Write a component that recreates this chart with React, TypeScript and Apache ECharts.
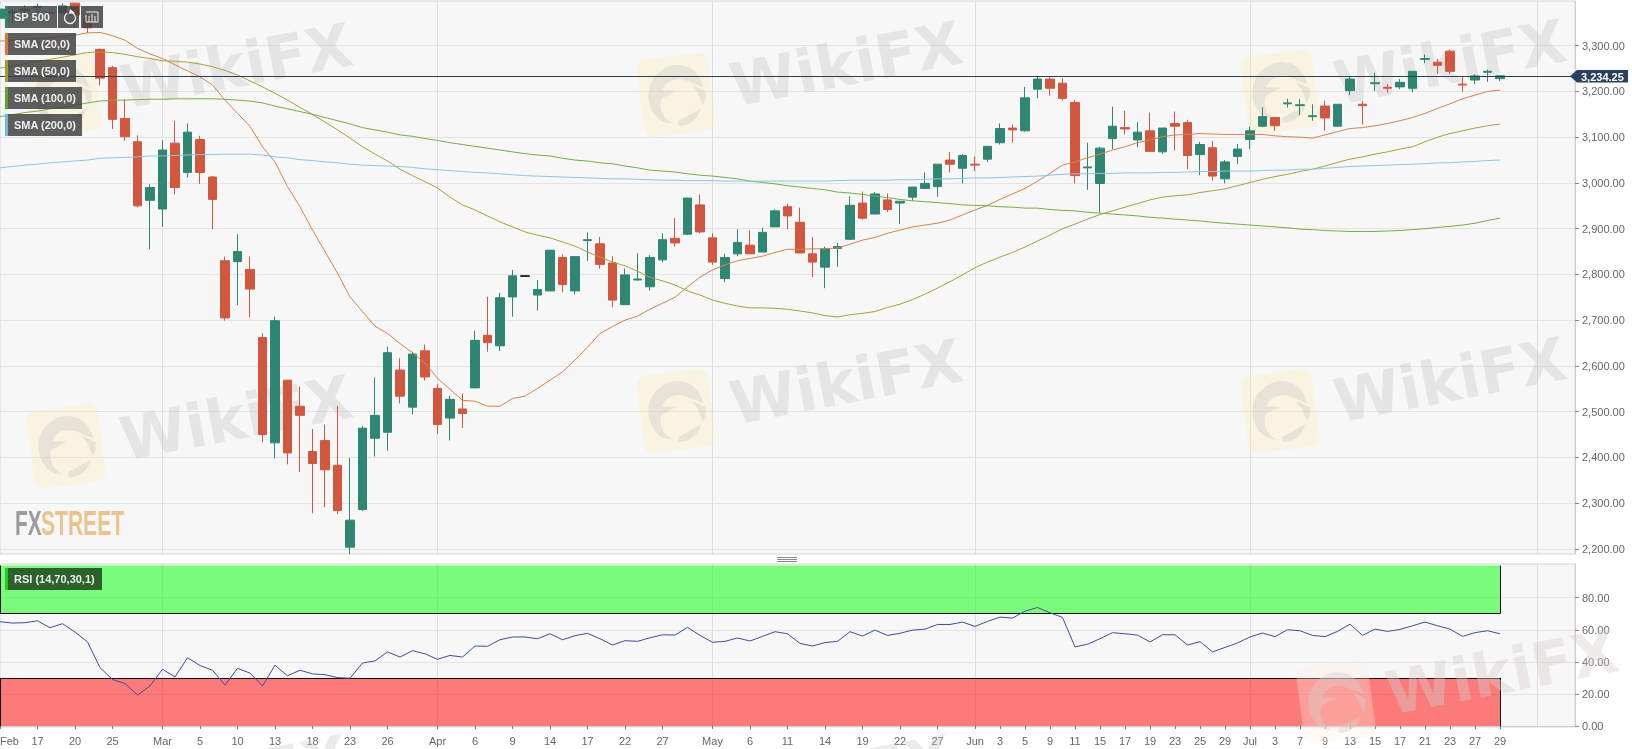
import React, { useEffect, useRef } from "react";
import * as echarts from "echarts";

const opens = [3360,3372,3376,3384,3372,3372,3393,3360,3292,3252,3141,3090,2962,2943,3087,3023,3095,3013,2830,2828,2811,2662,2432,2569,2512,2413,2437,2383,2204,2286,2442,2455,2591,2510,2633,2551,2486,2506,2552,2667,2644,2751,2796,2755,2764,2837,2764,2874,2867,2825,2734,2788,2773,2832,2879,2888,2952,2880,2791,2845,2864,2849,2904,2948,2914,2845,2816,2857,2877,2956,2932,2963,2956,2969,2988,2992,3050,3032,3041,3052,3088,3120,3114,3205,3227,3218,3176,3033,2999,3097,3121,3094,3114,3068,3130,3132,3062,3077,3009,3058,3095,3124,3143,3173,3169,3145,3168,3124,3202,3172,3217,3209,3210,3207,3270,3264,3288,3216,3225,3242,3228];
const closes = [3380,3375,3380,3386,3370,3387,3367,3339,3229,3139,3101,2950,2990,3072,2990,3111,3023,2964,2705,2850,2768,2450,2699,2410,2492,2387,2373,2284,2263,2464,2492,2629,2534,2626,2576,2472,2527,2496,2656,2651,2749,2797,2797,2767,2853,2778,2839,2876,2822,2744,2799,2790,2837,2876,2869,2967,2893,2827,2837,2870,2845,2892,2939,2928,2847,2827,2856,2861,2951,2923,2976,2942,2960,2991,2999,3041,3041,3060,3039,3080,3119,3116,3186,3227,3207,3185,3016,3035,3076,3124,3118,3111,3069,3120,3124,3060,3084,3015,3046,3074,3114,3145,3125,3175,3171,3147,3142,3172,3227,3169,3219,3207,3220,3244,3272,3257,3244,3214,3234,3244,3234.25];
const lows = [3355,3350,3368,3374,3366,3368,3341,3328,3213,3118,3092,2947,2855,2904,2975,3012,2998,2899,2699,2733,2706,2433,2398,2385,2368,2278,2291,2276,2189,2283,2402,2415,2518,2494,2568,2451,2437,2464,2552,2631,2633,2708,2796,2721,2764,2761,2757,2830,2813,2728,2734,2786,2765,2826,2861,2886,2890,2821,2783,2840,2845,2849,2904,2899,2847,2794,2770,2817,2875,2920,2932,2937,2910,2961,2988,2970,3023,2999,3026,3046,3084,3088,3112,3185,3191,3180,2999,2985,2935,3074,3106,3078,3069,3063,3071,3030,3017,3005,2999,3041,3074,3122,3114,3165,3148,3136,3114,3124,3192,3128,3201,3197,3205,3198,3262,3238,3238,3199,3216,3221,3223];
const highs = [3385,3380,3388,3392,3378,3393,3394,3367,3294,3256,3183,3104,2997,3093,3136,3130,3103,3015,2839,2888,2839,2671,2708,2569,2555,2462,2472,2513,2399,2469,2575,2642,2617,2631,2647,2560,2535,2540,2677,2751,2760,2810,2797,2788,2853,2844,2839,2892,2882,2840,2813,2846,2842,2890,2923,2967,2975,2890,2845,2899,2896,2902,2942,2955,2946,2882,2861,2869,2971,2981,2980,2977,2960,2991,3023,3041,3068,3063,3058,3080,3130,3128,3210,3232,3231,3229,3181,3088,3079,3167,3158,3133,3154,3120,3156,3138,3090,3092,3050,3085,3123,3165,3143,3184,3183,3172,3180,3172,3234,3179,3241,3216,3227,3244,3281,3271,3292,3232,3237,3248,3236];

const sma20 = [3310,3312,3314,3316,3318,3320,3323,3328,3329,3322,3312,3294,3282,3272,3258,3245,3232,3214,3181,3152,3124,3079,3046,2992,2948,2897,2850,2803,2751,2719,2687,2671,2649,2629,2606,2573,2549,2525,2523,2512,2512,2529,2534,2551,2569,2587,2613,2641,2671,2686,2700,2709,2724,2737,2750,2773,2794,2810,2821,2830,2835,2840,2848,2855,2855,2856,2856,2858,2866,2875,2881,2890,2897,2904,2908,2912,2919,2930,2941,2951,2964,2976,2988,3004,3021,3039,3046,3055,3063,3072,3079,3088,3094,3101,3105,3106,3108,3107,3106,3106,3106,3106,3103,3101,3100,3098,3105,3112,3119,3121,3125,3130,3136,3143,3152,3163,3173,3184,3192,3200,3203];
const sma50 = [3251,3256,3261,3266,3270,3275,3280,3285,3286,3285,3281,3276,3272,3267,3266,3264,3260,3254,3246,3236,3223,3210,3196,3181,3165,3150,3133,3116,3098,3079,3063,3048,3030,3016,3003,2989,2969,2952,2941,2928,2915,2904,2893,2886,2880,2871,2862,2849,2838,2827,2819,2807,2794,2786,2777,2764,2755,2744,2737,2731,2727,2727,2726,2724,2720,2716,2710,2707,2712,2715,2719,2728,2735,2745,2757,2770,2784,2799,2815,2827,2838,2848,2860,2873,2886,2900,2910,2921,2931,2939,2947,2955,2963,2969,2972,2974,2979,2983,2987,2994,3001,3008,3014,3019,3025,3030,3037,3045,3052,3057,3063,3068,3074,3079,3090,3100,3108,3114,3120,3125,3129];
const sma100 = [3145,3149,3154,3157,3162,3165,3170,3175,3179,3181,3181,3182,3183,3183,3184,3184,3184,3184,3183,3181,3179,3175,3168,3162,3156,3150,3143,3136,3129,3121,3116,3111,3105,3102,3097,3093,3088,3084,3080,3076,3072,3068,3064,3061,3059,3054,3050,3048,3044,3042,3037,3033,3028,3026,3024,3020,3017,3015,3012,3009,3004,3001,2998,2994,2991,2988,2985,2980,2978,2975,2971,2968,2964,2961,2959,2957,2955,2952,2951,2950,2948,2947,2945,2945,2942,2940,2939,2936,2934,2932,2930,2928,2925,2923,2921,2919,2917,2914,2912,2910,2908,2906,2904,2902,2899,2898,2896,2895,2894,2894,2894,2895,2896,2898,2900,2903,2905,2908,2912,2918,2923];
const sma200 = [3033,3036,3039,3041,3044,3046,3048,3050,3054,3055,3056,3057,3059,3059,3060,3061,3062,3062,3063,3063,3063,3061,3057,3055,3051,3049,3046,3044,3041,3039,3038,3037,3036,3034,3031,3029,3027,3025,3023,3022,3020,3018,3016,3015,3014,3013,3012,3011,3010,3009,3009,3008,3007,3006,3006,3005,3005,3005,3004,3004,3004,3004,3004,3004,3004,3004,3004,3005,3006,3006,3006,3006,3007,3007,3008,3009,3009,3010,3011,3011,3012,3013,3014,3015,3017,3019,3020,3020,3021,3021,3022,3022,3022,3023,3023,3024,3025,3025,3026,3026,3026,3027,3028,3028,3030,3030,3032,3034,3036,3037,3038,3039,3040,3041,3042,3044,3044,3046,3047,3049,3050];
const rsi = [65,64.2,64.4,65.6,61.3,63.8,58.6,52.4,36.4,29,26.5,19.3,25,35.4,30.6,42.6,37.7,34.8,25.5,36,33,25,37.9,31.3,34.8,32.5,32,30.2,29.8,39.3,40.6,46.2,43,47,45,41.6,44,43,49.9,49.7,53.8,55.5,55.5,54.4,57.5,53.8,56.3,57.8,54.4,50.5,53.2,52.8,55,56.9,56.7,61.5,56.5,52.2,52.8,54.9,53,55.9,58.8,57.5,51.5,49.9,52,52.8,58.8,56.1,59.8,56.5,57.8,59.8,60.4,63.3,63.3,64.8,62.1,65.2,67.9,67.3,71.6,73.9,70.6,67.7,49.3,51,54.4,58.2,57.5,56.7,52.4,56.9,56.9,50.5,52.6,46.2,49,51.8,55.5,58,55.7,60,59.4,56.5,55.7,59,63.5,56.5,60.4,59,60.2,62.5,64.8,62.5,60.4,55.9,58.2,59.4,57.5];

const BAR_SLOTS = 127;
const tickIndex = [0,3,6,9,13,16,19,22,25,28,31,35,38,41,44,47,50,53,57,60,63,66,69,72,75,78,80,82,84,86,88,90,92,94,96,98,100,102,104,106,108,110,112,114,116,118,120,123];
const tickLabels = ["Feb","17","20","25","Mar","5","10","13","18","23","26","Apr","6","9","14","17","22","27","May","6","11","14","19","22","27","Jun","3","5","9","11","15","17","19","23","25","29","Jul","3","7","9","13","15","17","21","23","27","29","Aug"];
const monthIndex = [13,35,57,78,100,123];
const priceTicks = [2200,2300,2400,2500,2600,2700,2800,2900,3000,3100,3200,3300];
const rsiTicks = [0,20,40,60,80];
const lastPrice = 3234.25;
const legendItems = ["SMA (20,0)","SMA (50,0)","SMA (100,0)","SMA (200,0)"];

const UP = "#2f8672";
const DOWN = "#d1573f";
const fmt = (v: number) => v.toLocaleString("en-US", { minimumFractionDigits: 2, maximumFractionDigits: 2 });

const eagle =
  "M20 55 C18 30 38 12 60 14 C76 16 86 28 88 45 L70 35 C58 28 44 30 38 42 L55 45 L36 52 C30 62 34 78 46 84 C30 82 22 70 20 55 Z " +
  "M52 82 L82 70 C76 84 64 90 52 88 Z M74 40 L90 50 C90 58 88 64 84 66 C82 56 80 48 74 40 Z";
echarts.graphic.registerShape("eagle", echarts.graphic.extendPath(eagle, {}));

const GRAY = "rgba(193,188,188,0.3)";
const YEL = "rgba(255,237,180,0.3)";
const GRAY_TOP = "rgba(215,205,205,0.4)";
const YEL_TOP = "rgba(255,240,225,0.3)";

function mark(cx: number, cy: number, withLogo: boolean, tx: number, ty: number, z: number) {
  const out: any[] = [];
  const top = z > 10;
  if (withLogo) {
    out.push({
      type: "group", x: cx, y: cy, rotation: 0.13, z, silent: true,
      children: [
        { type: "rect", z, shape: { x: -36, y: -39, width: 72, height: 78, r: 9 }, style: { fill: top ? YEL_TOP : YEL } },
        { type: "eagle", z: z + 1, x: -44, y: -41, scaleX: 0.82, scaleY: 0.82, style: { fill: top ? GRAY_TOP : GRAY } },
      ],
    });
  }
  out.push({
    type: "text", x: tx, y: ty, rotation: 0.19, z, silent: true,
    style: { text: "WikiFX", fill: top ? GRAY_TOP : GRAY, font: "bold 60px 'DejaVu Sans'", textAlign: "center", textVerticalAlign: "middle" },
  });
  return out;
}

function box(x: number, y: number, w: number, label: string, accent: string, bg = "rgba(66,66,66,0.85)") {
  return [
    { type: "rect", z: 100, shape: { x, y, width: w, height: 22 }, style: { fill: bg }, silent: true },
    { type: "rect", z: 101, shape: { x, y, width: 3, height: 22 }, style: { fill: accent }, silent: true },
    { type: "text", z: 101, x: x + 9, y: y + 11, silent: true,
      style: { text: label, fill: "#eeeeee", font: "bold 11px 'Liberation Sans'", textVerticalAlign: "middle" } },
  ];
}

export default function App() {
  const ref = useRef<HTMLDivElement>(null);
  useEffect(() => {
    const chart = echarts.init(ref.current!, undefined, { renderer: "svg" });
    const cats = Array.from({ length: BAR_SLOTS }, (_, i) => {
      const p = tickIndex.indexOf(i);
      return p >= 0 ? tickLabels[p] : "";
    });
    const candles = opens.map((o, i) => {
      const value = [o, closes[i], lows[i], highs[i]];
      return i === 42 ? { value, itemStyle: { color: "#111", color0: "#111", borderColor: "#111", borderColor0: "#111" } } : value;
    });
    const isMonth = (i: number) => monthIndex.includes(i);
    const isTick = (i: number) => tickIndex.includes(i);
    const splitColor = "#e3e3e3";
    const baseX = {
      type: "category" as const,
      data: cats,
      boundaryGap: false,
      splitLine: { show: true, interval: (i: number) => isMonth(i), lineStyle: { color: "#dedede", width: 1 } },
    };
    const sma = (name: string, data: number[], color: string) => ({
      name, type: "line" as const, data, xAxisIndex: 0, yAxisIndex: 0, symbol: "none", silent: true,
      lineStyle: { color, width: 1 }, z: 5,
    });
    const graphics: any[] = [
      ...mark(62, 95, true, 236, 66, 1),
      ...mark(676, 95, true, 846, 64, 1),
      ...mark(1280, 92, true, 1450, 62, 1),
      ...mark(66, 446, true, 236, 418, 1),
      ...mark(676, 411, true, 846, 382, 1),
      ...mark(1280, 411, true, 1450, 380, 1),
      ...mark(1336, 702, true, 1502, 672, 50),
      ...mark(0, 0, false, 232, 778, 1),
      ...mark(0, 0, false, 836, 778, 1),
      { type: "text", z: 3, x: 15, y: 522, silent: true, scaleX: 0.58,
        style: { text: "FX", fill: "#9c9c9e", font: "bold 36px 'Liberation Sans'", textVerticalAlign: "middle" } },
      { type: "text", z: 3, x: 41, y: 522, silent: true, scaleX: 0.585,
        style: { text: "STREET", fill: "#e8c48f", font: "bold 36px 'Liberation Sans'", textVerticalAlign: "middle" } },
      { type: "rect", z: 100, shape: { x: 5, y: 6, width: 52, height: 22 }, style: { fill: "rgba(66,72,70,0.85)" }, silent: true },
      { type: "rect", z: 101, shape: { x: 5, y: 6, width: 3, height: 22 }, style: { fill: UP }, silent: true },
      { type: "text", z: 101, x: 14, y: 17, silent: true, style: { text: "SP 500", fill: "#eeeeee", font: "bold 11px 'Liberation Sans'", textVerticalAlign: "middle" } },
      { type: "rect", z: 100, shape: { x: 58, y: 6, width: 21, height: 22 }, style: { fill: "rgba(66,66,66,0.85)" }, silent: true },
      { type: "rect", z: 100, shape: { x: 81, y: 6, width: 22, height: 22 }, style: { fill: "rgba(66,66,66,0.85)" }, silent: true },
      { type: "arc", z: 101, shape: { cx: 70, cy: 18, r: 5.5, startAngle: -1.2, endAngle: 4.2, clockwise: true }, style: { stroke: "#f0f0f0", lineWidth: 1.3, fill: "none" }, silent: true },
      { type: "polygon", z: 101, shape: { points: [[70, 9], [75, 13], [69, 14]] }, style: { fill: "#f0f0f0" }, silent: true },
      { type: "polyline", z: 101, shape: { points: [[86, 12], [98, 12], [98, 22], [86, 22], [86, 15]] }, style: { stroke: "#f0f0f0", lineWidth: 1, fill: "none" }, silent: true },
      { type: "line", z: 101, shape: { x1: 89, y1: 16, x2: 89, y2: 22 }, style: { stroke: "#f0f0f0", lineWidth: 1 }, silent: true },
      { type: "line", z: 101, shape: { x1: 92, y1: 14, x2: 92, y2: 22 }, style: { stroke: "#f0f0f0", lineWidth: 1 }, silent: true },
      { type: "line", z: 101, shape: { x1: 95, y1: 16, x2: 95, y2: 22 }, style: { stroke: "#f0f0f0", lineWidth: 1 }, silent: true },
      ...box(5, 33, 71, legendItems[0], "#d9773a"),
      ...box(5, 60, 71, legendItems[1], "#a59a2a"),
      ...box(5, 87, 77, legendItems[2], "#5fa32e"),
      ...box(5, 114, 77, legendItems[3], "#74b4e0"),
      ...box(5, 568, 97, "RSI (14,70,30,1)", "#22cc22", "rgba(40,88,40,0.95)"),
      { type: "polygon", z: 90, silent: true, shape: { points: [[1570, 76.3], [1577, 70], [1628, 70], [1628, 82.6], [1577, 82.6]] }, style: { fill: "#2b3f5e" } },
      { type: "text", z: 91, x: 1581, y: 76.5, silent: true,
        style: { text: fmt(lastPrice), fill: "#ffffff", font: "bold 11px 'Liberation Sans'", textVerticalAlign: "middle" } },
      { type: "line", z: 100, silent: true, shape: { x1: 777, y1: 557.5, x2: 797, y2: 557.5 }, style: { stroke: "#888", lineWidth: 1 } },
      { type: "line", z: 100, silent: true, shape: { x1: 777, y1: 559.5, x2: 797, y2: 559.5 }, style: { stroke: "#888", lineWidth: 1 } },
      { type: "line", z: 100, silent: true, shape: { x1: 777, y1: 561.5, x2: 797, y2: 561.5 }, style: { stroke: "#888", lineWidth: 1 } },
    ];
    const edge = (a: number[], b: number[]) => [{ coord: a }, { coord: b }];
    chart.setOption({
      animation: false,
      textStyle: { fontFamily: "'Liberation Sans'" },
      grid: [
        { left: 0, top: 1, width: 1575, height: 553, show: true, outerBoundsMode: "none", backgroundColor: "#f7f7f7", borderColor: "#d4d6dc", borderWidth: 1 },
        { left: 0, top: 564, width: 1575, height: 163, show: true, outerBoundsMode: "none", backgroundColor: "#f7f7f7", borderColor: "#d8d8d8", borderWidth: 1 },
      ],
      xAxis: [
        { ...baseX, gridIndex: 0, axisLine: { show: false }, axisTick: { show: false }, axisLabel: { show: false } },
        { ...baseX, gridIndex: 1, axisLine: { lineStyle: { color: "#cfcfcf" } },
          axisTick: { show: true, interval: (i: number) => isTick(i), length: 3, lineStyle: { color: "#777" } },
          axisLabel: { interval: (i: number) => isTick(i), color: "#666", fontSize: 11, margin: 8, hideOverlap: false, alignMinLabel: "left", showMinLabel: true, showMaxLabel: false } },
      ],
      yAxis: [
        { type: "value", gridIndex: 0, position: "right", min: 2189, max: 3397.7,
          axisLine: { show: true, lineStyle: { color: "#cfcfcf" } },
          axisTick: { show: true, length: 4, customValues: priceTicks, lineStyle: { color: "#888" } },
          axisLabel: { customValues: priceTicks, formatter: (v: number) => fmt(v), color: "#666", fontSize: 11, margin: 7 },
          splitLine: { show: true, lineStyle: { color: splitColor } } },
        { type: "value", gridIndex: 1, position: "right", min: -0.6, max: 101,
          axisLine: { show: true, lineStyle: { color: "#cfcfcf" } },
          axisTick: { show: true, length: 4, customValues: rsiTicks, lineStyle: { color: "#888" } },
          axisLabel: { customValues: rsiTicks, formatter: (v: number) => fmt(v), color: "#666", fontSize: 11, margin: 7 },
          splitLine: { show: true, lineStyle: { color: splitColor } } },
      ],
      series: [
        { name: "SP 500", type: "candlestick", data: candles, xAxisIndex: 0, yAxisIndex: 0, barWidth: 9, z: 3, silent: true,
          itemStyle: { color: UP, color0: DOWN, borderColor: UP, borderColor0: DOWN, borderWidth: 1 },
          markLine: {
            silent: true, symbol: "none", animation: false, z: 6,
            lineStyle: { color: "#2c3e50", width: 1, type: "solid" },
            label: { show: false },
            data: [{ yAxis: lastPrice }],
          } },
        sma("SMA (20,0)", sma20, "#d9824a"),
        sma("SMA (50,0)", sma50, "#a6a23d"),
        sma("SMA (100,0)", sma100, "#78ac46"),
        sma("SMA (200,0)", sma200, "#8cc4e4"),
        { name: "RSI (14,70,30,1)", type: "line", data: rsi, xAxisIndex: 1, yAxisIndex: 1, symbol: "none", silent: true,
          lineStyle: { color: "#3f4d9c", width: 1 }, z: 6,
          markArea: { silent: true, z: 2, data: [
            [{ coord: [0, 70], itemStyle: { color: "rgba(0,255,0,0.5)" } }, { coord: [120, 100] }],
            [{ coord: [0, 0], itemStyle: { color: "rgba(255,0,0,0.5)" } }, { coord: [120, 30] }],
          ] },
          markLine: { silent: true, symbol: "none", z: 4, label: { show: false }, lineStyle: { color: "#111", width: 1, type: "solid" }, data: [
            edge([0, 70], [120, 70]), edge([0, 30], [120, 30]), edge([120, 70], [120, 100]), edge([120, 0], [120, 30]), edge([0, 70], [0, 100]), edge([0, 0], [0, 30]),
          ] } },
      ],
      graphic: graphics,
    });
    return () => chart.dispose();
  }, []);
  return <div ref={ref} style={{ position: "fixed", left: 0, top: 0, width: 1632, height: 749 }} />;
}
